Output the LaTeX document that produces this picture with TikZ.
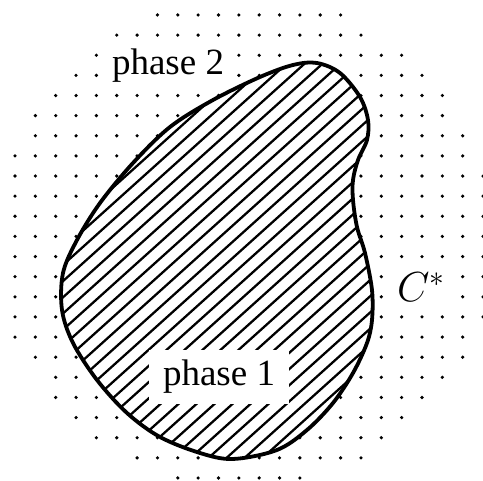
\RequirePackage{fix-cm}
\documentclass[tikz,border=0pt]{standalone}
\usepackage{fontspec}
\setmainfont{Liberation Serif}
\tikzset{
  grain/.style={fill=black},
  hatchline/.style={line width=2.3pt,line cap=round},
  rim/.style={line width=3.8pt,line join=round},
  phasetext/.style={fill=white,inner xsep=8pt,inner ysep=5pt,anchor=base,font=\fontsize{37}{40}\selectfont},
  startext/.style={fill=white,inner sep=4pt,anchor=base west,font=\fontsize{42}{46}\selectfont},
}
\newcommand{\blobshape}{plot[smooth cycle,tension=0.55] coordinates {(317,63) (340,73) (360,97) (368,120) (367,140) (358,160) (353,180) (353,200) (357,227) (365,253) (372,290) (372,320) (367,343) (353,373) (333,403) (307,430) (277,450) (233,459) (200,453) (160,437) (127,413) (97,380) (73,343) (62,310) (63,273) (77,240) (100,203) (133,163) (170,127) (213,100) (260,77) (293,65)}}

\begin{document}
\begin{tikzpicture}[x=1pt,y=-1pt]
  \useasboundingbox (0,0) rectangle (483,481);
  \foreach \row/\first/\last in {0/7/16,1/5/17,2/4/19,3/3/20,4/2/21,5/1/21,6/1/22,7/0/22,8/0/23,9/0/23,10/0/23,11/0/23,12/0/23,13/0/23,14/0/23,15/0/23,16/0/22,17/1/22,18/2/21,19/2/20,20/3/19,21/4/18,22/6/17,23/8/14}
    \foreach \col in {\first,...,\last}
      \fill[grain] ({15+20.35*\col},{15+20.13*\row}) circle (1.8pt);

  \fill[white] \blobshape;
  \begin{scope}
    \clip \blobshape;
    \foreach \shift in {-410,-392,...,360}
      \draw[hatchline] (\shift,480) -- ++(560,-504);
  \end{scope}
  \draw[rim] \blobshape;

  \node[phasetext] (phase2) at (168,75) {phase 2};
  \node[phasetext,inner xsep=14pt,inner ysep=10pt] (phase1) at (219,386) {phase 1};
  \node[startext] (cstar) at (393,302) {$C^{*}$};
\end{tikzpicture}
\end{document}
